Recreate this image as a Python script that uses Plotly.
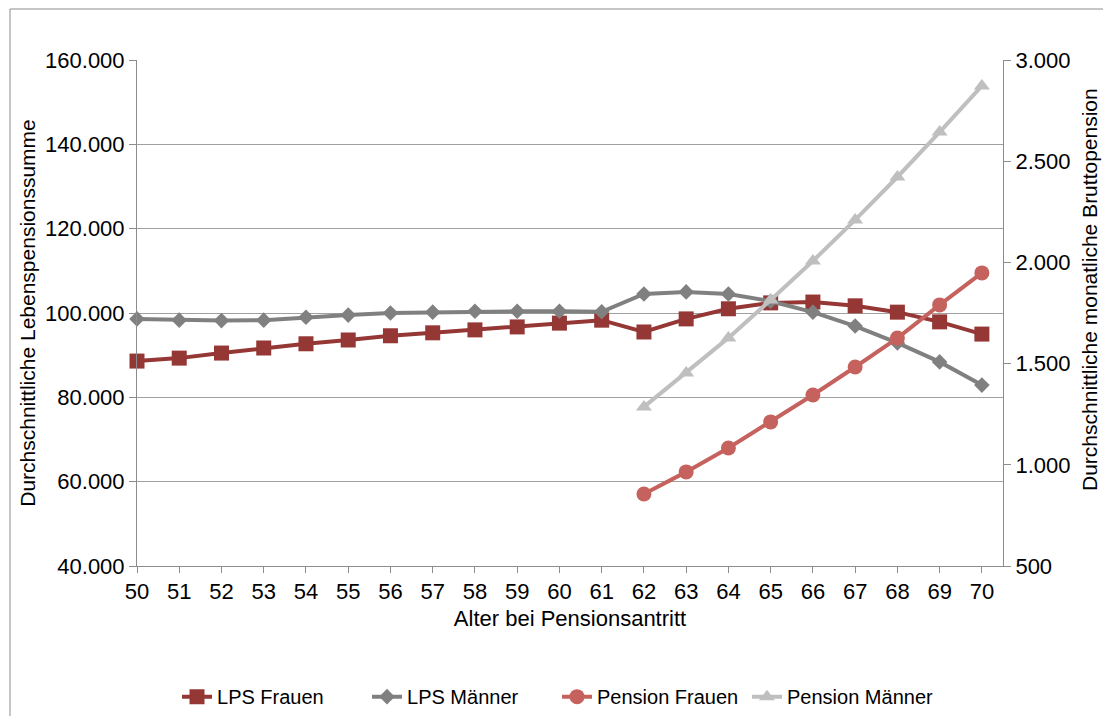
import plotly.graph_objects as go

ages = list(range(50, 71))
ages_pension = list(range(62, 71))

lps_frauen = [88.6, 89.3, 90.5, 91.7, 92.7, 93.6, 94.6, 95.3, 96.0, 96.7, 97.6, 98.3,
              95.5, 98.6, 101.0, 102.4, 102.6, 101.7, 100.2, 97.9, 95.0]
lps_frauen = [v * 1000 for v in lps_frauen]
lps_maenner = [98.6, 98.3, 98.2, 98.3, 99.0, 99.5, 100.0, 100.2, 100.4, 100.4, 100.4, 100.3,
               104.5, 105.0, 104.5, 102.8, 100.2, 96.9, 92.9, 88.4, 82.9]
lps_maenner = [v * 1000 for v in lps_maenner]
pension_frauen = [856, 965, 1083, 1212, 1345, 1483, 1626, 1790, 1948]
pension_maenner = [1286, 1454, 1627, 1814, 2007, 2210, 2422, 2644, 2872]

FONT = "Liberation Sans, Arial, sans-serif"
AX = "#8c8c8c"

fig = go.Figure()
fig.add_trace(go.Scatter(x=ages, y=lps_frauen, name="LPS Frauen", mode="lines+markers",
                         line=dict(color="#953735", width=4),
                         marker=dict(symbol="square", size=15, color="#953735"),
                         cliponaxis=False))
fig.add_trace(go.Scatter(x=ages, y=lps_maenner, name="LPS Männer", mode="lines+markers",
                         line=dict(color="#808080", width=4),
                         marker=dict(symbol="diamond", size=12, color="#808080"),
                         cliponaxis=False))
fig.add_trace(go.Scatter(x=ages_pension, y=pension_frauen, name="Pension Frauen", mode="lines+markers",
                         line=dict(color="#c6625e", width=4),
                         marker=dict(symbol="circle", size=15, color="#c6625e"),
                         yaxis="y2", cliponaxis=False))
fig.add_trace(go.Scatter(x=ages_pension, y=pension_maenner, name="Pension Männer", mode="lines+markers",
                         line=dict(color="#bfbfbf", width=4),
                         marker=dict(symbol="triangle-up", size=14, color="#bfbfbf"),
                         yaxis="y2", cliponaxis=False))

fig.update_layout(
    width=1103, height=716,
    margin=dict(l=137, r=100, t=60, b=150),
    paper_bgcolor="white", plot_bgcolor="white",
    separators=",.",
    font=dict(family=FONT, size=22, color="#000000"),
    showlegend=True,
    legend=dict(orientation="h", xref="container", yref="container", x=0.505, y=0.027,
                xanchor="center", yanchor="middle", font=dict(size=20),
                itemwidth=30, traceorder="normal", entrywidth=145, entrywidthmode="pixels"),
    xaxis=dict(range=[50, 70.5], tickmode="array", tickvals=ages, ticktext=[str(a) for a in ages],
               showgrid=False, showline=True, linecolor=AX, linewidth=1,
               ticks="outside", ticklen=6, tickcolor=AX, zeroline=False,
               tickfont=dict(size=22),
               title=dict(text="Alter bei Pensionsantritt", font=dict(size=22), standoff=7)),
    yaxis=dict(range=[40000, 160000], tickmode="array",
               tickvals=[40000, 60000, 80000, 100000, 120000, 140000, 160000],
               tickformat=",.0f", showgrid=True, gridcolor="#a0a0a0", gridwidth=1,
               showline=True, linecolor=AX, linewidth=1, ticks="outside", ticklen=7,
               tickcolor=AX, zeroline=False, tickfont=dict(size=22),
               title=dict(text="Durchschnittliche Lebenspensionssumme", font=dict(size=21), standoff=3)),
    yaxis2=dict(range=[500, 3000], overlaying="y", side="right", anchor="x",
                tickmode="array", tickvals=[500, 1000, 1500, 2000, 2500, 3000],
                tickformat=",.0f", showgrid=False, showline=True, linecolor=AX, linewidth=1,
                ticks="outside", ticklen=7, tickcolor=AX, zeroline=False,
                tickfont=dict(size=22)),
    annotations=[dict(text="Durchschnittliche monatliche Bruttopension", textangle=-90,
                      xref="paper", yref="paper", x=(1089 - 137) / 866, y=(566 - 290) / 506,
                      xanchor="center", yanchor="middle", showarrow=False,
                      font=dict(size=21, family=FONT, color="#000000"))],
    shapes=[dict(type="rect", xref="paper", yref="paper",
                 x0=(10 - 137) / 866, x1=1.25, y0=-0.5, y1=1 + (60 - 9) / 506,
                 line=dict(color="#8c8c8c", width=1), fillcolor="rgba(0,0,0,0)", layer="below")],
)

fig.write_html("out.html")
